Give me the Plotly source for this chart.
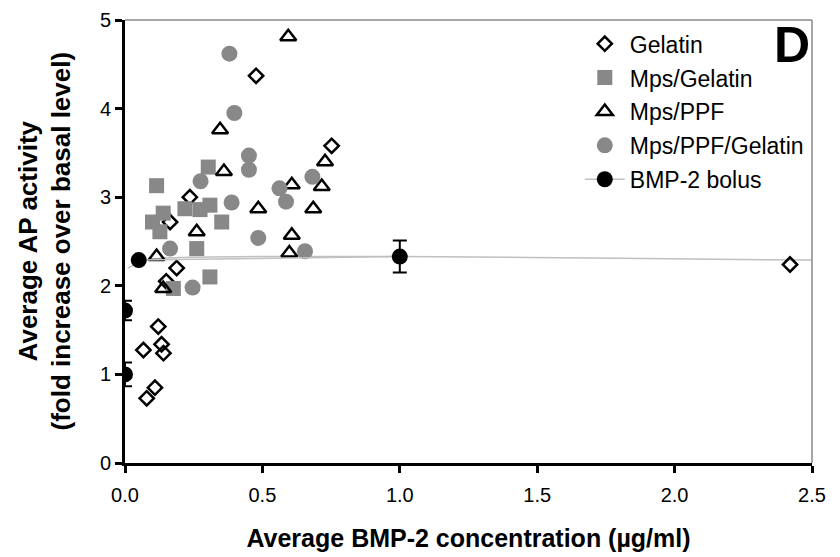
import plotly.graph_objects as go

# Gelatin (open diamonds)
gel_x = [0.477, 0.752, 0.236, 0.164, 0.188, 0.150, 0.121, 0.067, 0.133, 0.140, 0.109, 0.079, 2.42]
gel_y = [4.37, 3.58, 3.00, 2.72, 2.20, 2.05, 1.54, 1.275, 1.34, 1.24, 0.85, 0.73, 2.24]

# Mps/Gelatin (grey squares)
mg_x = [0.115, 0.303, 0.218, 0.273, 0.309, 0.352, 0.100, 0.139, 0.127, 0.261, 0.309, 0.176]
mg_y = [3.13, 3.34, 2.87, 2.86, 2.91, 2.72, 2.72, 2.82, 2.61, 2.42, 2.10, 1.97]

# Mps/PPF (open triangles)
mp_x = [0.594, 0.346, 0.360, 0.728, 0.607, 0.716, 0.685, 0.485, 0.607, 0.598, 0.261, 0.115, 0.139]
mp_y = [4.81, 3.76, 3.29, 3.40, 3.14, 3.12, 2.87, 2.87, 2.57, 2.37, 2.61, 2.33, 1.97]

# Mps/PPF/Gelatin (grey circles)
mpg_x = [0.380, 0.398, 0.451, 0.451, 0.275, 0.562, 0.682, 0.388, 0.586, 0.485, 0.655, 0.164, 0.246]
mpg_y = [4.62, 3.95, 3.47, 3.31, 3.18, 3.10, 3.23, 2.94, 2.95, 2.54, 2.39, 2.42, 1.98]

# BMP-2 bolus (black circles with error bars)
bol_x = [0.0, 0.0, 0.05, 1.0]
bol_y = [1.00, 1.72, 2.29, 2.33]
bol_err = [0.135, 0.11, 0.0, 0.18]

# Bolus trend line
trend_x = [0.01, 0.08, 0.2, 0.5, 1.0, 1.8, 2.5]
trend_y = [2.20, 2.29, 2.32, 2.33, 2.33, 2.31, 2.29]

x_ticks = [0, 0.5, 1.0, 1.5, 2.0, 2.5]
x_ticklabels = ["0.0", "0.5", "1.0", "1.5", "2.0", "2.5"]
y_ticks = [0, 1, 2, 3, 4, 5]

GREY = "#888888"
FONT = "Liberation Sans, Arial, sans-serif"

fig = go.Figure()

fig.add_trace(go.Scatter(x=trend_x, y=trend_y, mode="lines", line=dict(color="#c0c0c0", width=1.5, shape="spline"),
                         showlegend=False, hoverinfo="skip"))

fig.add_trace(go.Scatter(x=gel_x, y=gel_y, mode="markers", name="Gelatin", legendgroup="a",
                         marker=dict(symbol="diamond-open", size=11, color="black", line=dict(width=2.5, color="black"))))
fig.add_trace(go.Scatter(x=mg_x, y=mg_y, mode="markers", name="Mps/Gelatin", legendgroup="b",
                         marker=dict(symbol="square", size=15, color=GREY, line=dict(width=0))))
fig.add_trace(go.Scatter(x=mp_x, y=mp_y, mode="markers", name="Mps/PPF", legendgroup="c",
                         marker=dict(symbol="triangle-up-open", size=14, color="black", line=dict(width=2.5, color="black"))))
fig.add_trace(go.Scatter(x=mpg_x, y=mpg_y, mode="markers", name="Mps/PPF/Gelatin", legendgroup="d",
                         marker=dict(symbol="circle", size=16, color=GREY, line=dict(width=0))))

# bolus: markers with error bars; segment-separated so lower points aren't joined
bx = [bol_x[0], None, bol_x[1], None, bol_x[2], bol_x[3]]
by = [bol_y[0], None, bol_y[1], None, bol_y[2], bol_y[3]]
be = [bol_err[0], None, bol_err[1], None, bol_err[2], bol_err[3]]
fig.add_trace(go.Scatter(x=bx, y=by, mode="lines+markers", name="BMP-2 bolus", legendgroup="e",
                         connectgaps=False,
                         line=dict(color="#c0c0c0", width=1.5),
                         marker=dict(symbol="circle", size=16, color="black"),
                         error_y=dict(type="data", array=be, visible=True, color="black", thickness=2, width=7)))

fig.add_annotation(x=1.0, y=1.0, xref="paper", yref="paper", xanchor="right", yanchor="top",
                   xshift=0, yshift=5, text="<b>D</b>", showarrow=False,
                   font=dict(size=50, family=FONT, color="black"))

# y-axis title (two lines, rotated)
fig.add_annotation(x=0, y=0.5, xref="paper", yref="paper", xanchor="center", yanchor="middle",
                   xshift=-81, text="<b>Average AP activity<br>(fold increase over basal level)</b>",
                   textangle=-90, showarrow=False, font=dict(size=26, family=FONT, color="black"))

# grey top/right frame
fig.add_shape(type="line", xref="paper", yref="paper", x0=0, x1=1, y0=1, y1=1, line=dict(color=GREY, width=1.5))
fig.add_shape(type="line", xref="paper", yref="paper", x0=1, x1=1, y0=0, y1=1, line=dict(color=GREY, width=1.5))

fig.update_layout(
    width=840, height=557,
    margin=dict(l=117, r=36, t=12, b=102),
    paper_bgcolor="white", plot_bgcolor="white",
    font=dict(family=FONT, color="black"),
    showlegend=True,
    legend=dict(x=0.662, y=0.995, xanchor="left", yanchor="top", font=dict(size=23, family=FONT),
                itemwidth=40,
                traceorder="grouped", tracegroupgap=1, bgcolor="rgba(0,0,0,0)"),
    xaxis=dict(range=[0, 2.5], tickvals=x_ticks, ticktext=x_ticklabels, showgrid=False, zeroline=False,
               automargin=False,
               showline=True, linecolor="black", linewidth=3, ticks="outside", ticklen=7, tickwidth=3,
               tickcolor="black", tickfont=dict(size=20), ticklabelstandoff=5,
               title=dict(text="<b>Average BMP-2 concentration (µg/ml)</b>", font=dict(size=25), standoff=25)),
    yaxis=dict(range=[0, 5], tickvals=y_ticks, showgrid=False, zeroline=False,
               automargin=False,
               showline=True, linecolor="black", linewidth=3, ticks="outside", ticklen=7, tickwidth=3,
               tickcolor="black", tickfont=dict(size=20)),
)

fig.write_html("out.html")
